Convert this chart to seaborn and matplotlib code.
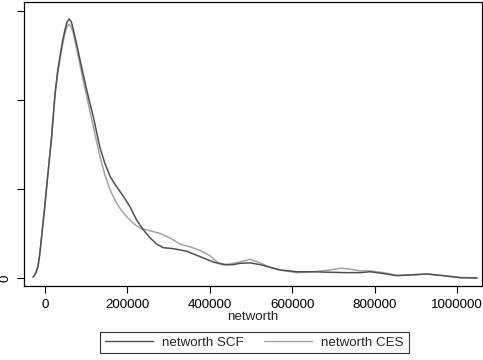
import numpy as np
import pandas as pd
import matplotlib
matplotlib.use("Agg")
import matplotlib.pyplot as plt
import seaborn as sns

# kernel density estimates (density in units of 1e-6)
scf_x = [-29000, -23000, -17000, -13000, -9000, -5000, -700, 3300, 7300, 11300,
         15300, 20000, 24300, 30000, 36400, 42500, 48500, 53000, 58200, 63500,
         68700, 76000, 84900, 93000, 101200, 109000, 117200, 125000, 133000, 145000,
         158000, 170000, 182000, 194000, 206000, 222500,
         238600, 255000, 271000, 287000, 311000, 344000, 376000, 408000, 433000,
         457000, 473000, 497000, 522000, 546000, 570000, 611000, 651000, 692000,
         732000, 765000, 789000, 821000, 853000, 886000, 926000, 967000, 1007000,
         1048000]
scf_u = [0.01, 0.05, 0.13, 0.26, 0.43, 0.61, 0.80, 0.99, 1.18, 1.37,
         1.55, 1.82, 2.07, 2.30, 2.49, 2.66, 2.79, 2.87, 2.91, 2.88,
         2.79, 2.64, 2.45, 2.28, 2.11, 1.96, 1.81, 1.64, 1.47, 1.29,
         1.14, 1.05, 0.97, 0.89, 0.80, 0.65,
         0.54, 0.45, 0.38, 0.34, 0.33, 0.30, 0.24, 0.18, 0.15,
         0.15, 0.165, 0.17, 0.15, 0.12, 0.09, 0.07, 0.07, 0.064,
         0.06, 0.06, 0.07, 0.05, 0.026, 0.034, 0.045, 0.026, 0.004,
         0.0]

ces_x = [-29000, -23000, -17000, -13000, -9000, -5000, -700, 3300, 7300, 11300,
         15300, 20000, 24300, 30000, 36400, 42500, 48500, 53000, 58200, 63500,
         68700, 76000, 84900, 93000, 101200, 109000, 117200, 125000, 133500, 145000,
         158000, 170000, 182000, 194000, 206000, 218000, 230600,
         255000, 279000, 303000, 327600, 352000, 376000, 400000, 420000, 441000,
         473000, 497000, 522000, 546000, 570000, 611000, 651000, 692000, 716000,
         740000, 765000, 789000, 821000, 853000, 886000, 926000, 967000, 1007000,
         1048000]
ces_u = [0.01, 0.05, 0.13, 0.26, 0.43, 0.61, 0.80, 0.99, 1.18, 1.37,
         1.55, 1.81, 2.05, 2.27, 2.46, 2.62, 2.75, 2.82, 2.85, 2.82,
         2.75, 2.59, 2.39, 2.21, 2.04, 1.87, 1.70, 1.53, 1.36, 1.16,
         0.99, 0.87, 0.78, 0.71, 0.65, 0.60, 0.56,
         0.53, 0.50, 0.45, 0.38, 0.35, 0.31, 0.25, 0.17, 0.15,
         0.18, 0.21, 0.17, 0.12, 0.09, 0.06, 0.07, 0.09, 0.11,
         0.10, 0.08, 0.08, 0.06, 0.03, 0.035, 0.045, 0.026, 0.004,
         0.0]

x_ticks = [0, 200000, 400000, 600000, 800000, 1000000]
y_ticks = [0, 2, 4, 6]
y_tick_labels = ["0", "", "", ""]
series_names = ["networth SCF", "networth CES"]

df = pd.concat([
    pd.DataFrame({"networth": scf_x, "density": np.array(scf_u) * 2, "series": series_names[0]}),
    pd.DataFrame({"networth": ces_x, "density": np.array(ces_u) * 2, "series": series_names[1]}),
])

sns.set_style("white")
plt.rcParams["font.family"] = ["Liberation Sans", "DejaVu Sans"]
plt.rcParams["font.size"] = 9.6

fig = plt.figure(figsize=(4.83, 3.6), dpi=100)
ax = fig.add_axes([24 / 483, 74 / 360, 458 / 483, 284 / 360])

sns.lineplot(data=df, x="networth", y="density", hue="series", sort=False,
             palette={series_names[0]: "#505050", series_names[1]: "#a3a3a3"},
             hue_order=series_names[::-1], linewidth=1.1, ax=ax, legend=False)

ax.set_xlim(-51000, 1060000)
ax.set_ylim(-0.18, 6.2)
ax.set_xticks(x_ticks)
ax.set_xticklabels([str(t) for t in x_ticks])
ax.set_yticks(y_ticks)
ax.set_yticklabels(y_tick_labels, rotation=90, va="center")
ax.tick_params(axis="both", direction="out", length=5, width=0.8, color="black",
               labelcolor="black", labelsize=9.6, left=True, bottom=True)
ax.tick_params(axis="x", pad=4)
ax.tick_params(axis="y", pad=4)
ax.set_xlabel("networth", labelpad=0.5, fontsize=9.6)
ax.set_ylabel("")
for s in ax.spines.values():
    s.set_color("black")
    s.set_linewidth(0.9)

handles = [plt.Line2D([], [], color="#505050", lw=1.0),
           plt.Line2D([], [], color="#a3a3a3", lw=1.0)]
leg = fig.legend(handles, series_names, loc="center", ncol=2,
                 bbox_to_anchor=(254.5 / 483, 1 - 342.5 / 360),
                 frameon=True, fancybox=False, handlelength=3.6,
                 handletextpad=0.7, columnspacing=1.5, borderpad=0.35,
                 borderaxespad=0, fontsize=9.6)
leg.get_frame().set_edgecolor("black")
leg.get_frame().set_linewidth(0.8)

fig.savefig("out.png", dpi=100)
